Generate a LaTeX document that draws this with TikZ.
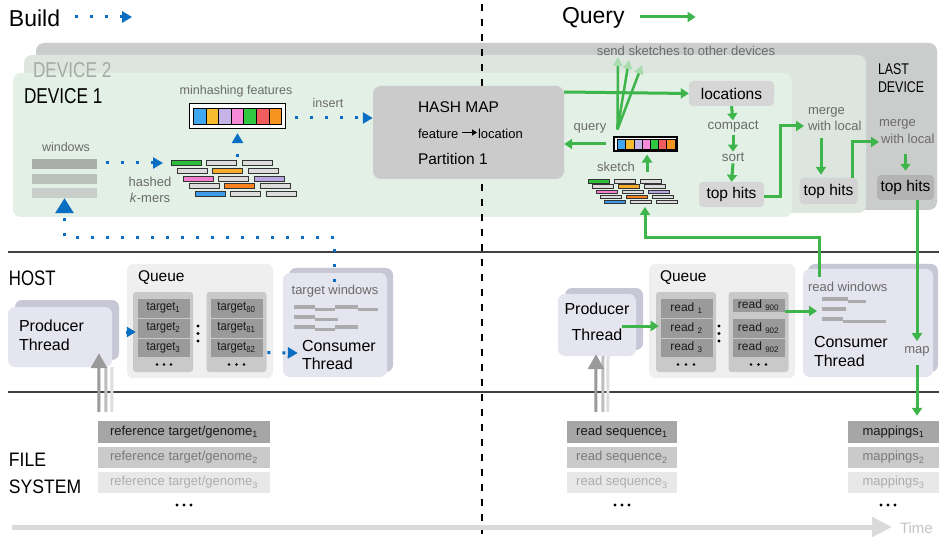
\documentclass[tikz,border=0pt]{standalone}
\usepackage{fontspec}
\setmainfont{Liberation Sans}
\newfontfamily\narrowA[FakeStretch=0.8]{Liberation Sans}
\newfontfamily\narrowB[FakeStretch=0.9]{Liberation Sans}
\usetikzlibrary{arrows.meta,calc}
\newcommand\setsz[1]{\fontsize{#1}{#1}\selectfont}

\definecolor{qgreen}{HTML}{3DB54A}
\definecolor{qgreenl}{HTML}{A8DCAE}
\definecolor{bblue}{HTML}{0A6FC2}
\definecolor{tgray}{HTML}{6B6B6B}
\definecolor{devA}{HTML}{E2F0E5}
\definecolor{devB}{HTML}{DCE5DE}
\definecolor{devC}{HTML}{CBCCCC}
\definecolor{devBtxt}{HTML}{A5AAA7}
\definecolor{hmgray}{HTML}{CBCBCB}
\definecolor{locgray}{HTML}{D6D6D6}
\definecolor{th2gray}{HTML}{D3D3D3}
\definecolor{th3gray}{HTML}{B3B3B3}
\definecolor{winA}{HTML}{A9AEAB}
\definecolor{winB}{HTML}{B9C0BB}
\definecolor{winC}{HTML}{C8CFCA}
\definecolor{kgreen}{HTML}{2DBE3C}
\definecolor{kgray}{HTML}{DCDCDC}
\definecolor{korange}{HTML}{F6AD2A}
\definecolor{kpink}{HTML}{F47FD0}
\definecolor{kpurple}{HTML}{B9A6E3}
\definecolor{kdorange}{HTML}{F7821E}
\definecolor{kblue}{HTML}{3D9BE9}
\definecolor{fblue}{HTML}{40A8F0}
\definecolor{fyellow}{HTML}{F7BC30}
\definecolor{flav}{HTML}{C6B4E8}
\definecolor{fpink}{HTML}{F78AD8}
\definecolor{fgreen}{HTML}{30C840}
\definecolor{fred}{HTML}{EF5D5D}
\definecolor{forange}{HTML}{F79420}
\definecolor{qbg}{HTML}{EFEFEF}
\definecolor{colbg}{HTML}{C9C9C9}
\definecolor{cellgray}{HTML}{9A9A9A}
\definecolor{cardfront}{HTML}{E5E5F0}
\definecolor{cardback}{HTML}{C7C7D6}
\definecolor{wbar}{HTML}{ABABAB}
\definecolor{linegray}{HTML}{404040}
\definecolor{fsA}{HTML}{A6A6A6}
\definecolor{fsB}{HTML}{CACACA}
\definecolor{fsC}{HTML}{E8E8E8}
\definecolor{fsBt}{HTML}{7A7A7A}
\definecolor{fsCt}{HTML}{ADADAD}
\definecolor{gaA}{HTML}{9A9A9A}
\definecolor{gaB}{HTML}{BDBDBD}
\definecolor{gaC}{HTML}{DDDDDD}
\definecolor{timegray}{HTML}{DADADA}
\definecolor{timetxt}{HTML}{C4C4C4}

\begin{document}
\begin{tikzpicture}[x=1pt,y=-1pt,
  txt/.style={inner sep=0pt, outer sep=0pt, text=black},
  gtxt/.style={inner sep=0pt, outer sep=0pt, text=tgray, font=\setsz{13}},
  garrow/.style={draw=qgreen, line width=3pt, -{Triangle[length=8pt,width=10pt]}},
  gsmall/.style={draw=qgreen, line width=3pt, -{Triangle[length=7pt,width=10pt]}},
  fanarrow/.style={draw=qgreen, line width=2.5pt, -{Triangle[length=9pt,width=9pt,color=qgreenl]}},
  bdot/.style={draw=bblue, line width=3pt, dash pattern=on 3pt off 12pt, -{Triangle[length=10pt,width=11pt]}},
  barrowtip/.style={draw=bblue, line width=3pt, -{Triangle[length=9pt,width=10pt]}},
  hitbox/.style={rounded corners=4pt, inner sep=0pt, font=\setsz{15.5}},
  kbar/.style={draw=black!80, line width=0.8pt},
  cell/.style={fill=cellgray, draw=colbg, line width=0.6pt, minimum width=53, inner sep=0pt, text=black!90},
  colbox/.style={fill=colbg, rounded corners=3pt, minimum width=60, minimum height=80, inner sep=0pt},
  qbox/.style={fill=qbg, rounded corners=6pt, minimum width=146, minimum height=114, inner sep=0pt},
  front/.style={fill=cardfront, rounded corners=7pt, inner sep=0pt},
  back/.style={fill=cardback, rounded corners=7pt},
  fsbox/.style={minimum height=22, inner sep=0pt, font=\setsz{13}},
  wline/.style={draw=wbar, line width=3.5pt}]

\path[use as bounding box, fill=white] (0,0) rectangle (939,537);

% ---------- headings ----------
\node[txt, anchor=west, font=\setsz{23}] (build) at (9,18) {Build};
\draw[bdot] ($(build.east)+(15,-1)$) -- ($(build.east)+(72,-1)$);
\node[txt, anchor=west, font=\setsz{23}] (query) at (562,18) {Query};
\draw[garrow] ($(query.east)+(15,-1)$) -- ($(query.east)+(71,-1)$);

% ---------- device stack ----------
\fill[devC, rounded corners=8pt] (36,43) rectangle (937,210);
\fill[devB, rounded corners=8pt] (24,55) rectangle (866,213);
\fill[devA, rounded corners=8pt] (13,73) rectangle (792,217);
\node[txt, anchor=west, text=devBtxt, font=\narrowA\setsz{21.5}] (dev2) at (33,70) {DEVICE 2};
\node[txt, anchor=west, font=\narrowA\setsz{21.5}] (dev1) at (24,96) {DEVICE 1};
\node[txt, anchor=west, font=\narrowA\setsz{15.5}] (lastA) at (878,69) {LAST};
\node[txt, anchor=west, font=\narrowA\setsz{15.5}] (lastB) at (878,87) {DEVICE};

% build / query divider
\draw[line width=1.5pt, dash pattern=on 7pt off 8pt] (482,4) -- (482,534);

% tier separators
\draw[line width=1.5pt, draw=linegray] (8,252) -- (939,252);
\draw[line width=1.5pt, draw=linegray] (8,392) -- (939,392);

% ---------- build side on the device ----------
\node[gtxt, font=\setsz{12.5}] (wlabel) at (66,147) {windows};
\node[fill=winA, minimum width=65, minimum height=10, inner sep=0pt] (win1) at (64.5,164) {};
\node[fill=winB, minimum width=65, minimum height=10, inner sep=0pt] (win2) at (64.5,179) {};
\node[fill=winC, minimum width=65, minimum height=10, inner sep=0pt] (win3) at (64.5,193) {};

\node[gtxt] (hashedA) at (150,182) {hashed};
\node[gtxt] (hashedB) at (150,198) {\textit{k}-mers};

% hashed k-mers (large) and sketch k-mers (small)
\foreach \r/\i/\cl in {0/0/kgreen,0/1/kgray,0/2/kgray,
                       1/0/kgray,1/1/korange,1/2/kgray,
                       2/0/kpink,2/1/kgray,2/2/kpurple,
                       3/0/kgray,3/1/kdorange,3/2/kgray,
                       4/0/kblue,4/1/kgray,4/2/kgray}{
  \draw[kbar, fill=\cl] ({171+6*\r+35.5*\i},{160.5+7.75*\r}) rectangle +(30,5);
  \draw[kbar, line width=0.6pt, fill=\cl] ({588+4*\r+26*\i},{179.5+5.2*\r}) rectangle +(21,3.5);
}
\coordinate (kmersin) at (171,163);
\coordinate (sketchkm) at (645,207);

\draw[bdot] ($(win1.east)+(9,-1)$) -- ($(kmersin)+(-8,0)$);

\node[gtxt, font=\setsz{12.5}] (mhlabel) at (236,91) {minhashing features};
\node[draw=black, line width=1.3pt, fill=white, minimum width=96, minimum height=25, inner sep=0pt] (feat) at (237.5,116) {};
\node[draw=black, line width=1.1pt, fill=white, minimum width=63, minimum height=14, inner sep=0pt] (sketchbox) at (645.5,144) {};
\foreach \cl [count=\i from 0] in {fblue,fyellow,flav,fpink,fgreen,fred,forange}{
  \draw[line width=0.9pt, fill=\cl] ({193.5+12.6*\i},108) rectangle +(12.6,16);
  \draw[line width=0.7pt, fill=\cl] ({617.5+8.2*\i},139.5) rectangle +(8.2,9.5);
}
\draw[bdot] ($(feat.south)+(0,28)$) -- ($(feat.south)+(0,4)$);

\node[gtxt, font=\setsz{12.5}] (inslabel) at (328,103) {insert};
\node[fill=hmgray, rounded corners=8pt, minimum width=191, minimum height=93, inner sep=0pt] (hashmap) at (468.5,132.5) {};
\node[txt, anchor=west, font=\setsz{15.5}] (hmtitle) at (418,107) {HASH MAP};
\node[txt, anchor=west, font=\setsz{13}] (hmfeat) at (418,134) {feature};
\node[txt, anchor=west, font=\setsz{13}] (hmloc) at (478,134) {location};
\draw[line width=1.3pt, -{Triangle[length=5pt,width=6pt]}] ($(hmfeat.east)+(4,-1.5)$) -- ($(hmloc.west)+(-1,-1.5)$);
\node[txt, anchor=west, font=\setsz{15.5}] (hmpart) at (418,159) {Partition 1};
\draw[bdot] ($(feat.east)+(9,2)$) -- ($(hashmap.west)+(0,-14.5)$);

% ---------- query side on the device ----------
\node[gtxt] (sendlabel) at (686,51) {send sketches to other devices};
\node[gtxt] (sketchlabel) at (616,167) {sketch};
\node[gtxt] (querylabel) at (590,128) {query};

\node[fill=locgray, hitbox] (loc) at (731.5,93.5) [minimum width=85, minimum height=25] {locations};
\node[gtxt, font=\setsz{13.5}] (compact) at (733,127) {compact};
\node[gtxt, font=\setsz{13.5}] (sort) at (733,157) {sort};
\node[fill=locgray, hitbox] (th1) at (731.5,194.5) [minimum width=65, minimum height=25] {top hits};
\node[gtxt] (m1a) at (808,112) [anchor=west] {merge};
\node[gtxt] (m1b) at (808,126) [anchor=west] {with local};
\node[fill=th2gray, hitbox] (th2) at (828.5,191) [minimum width=58, minimum height=26] {top hits};
\node[gtxt] (m2a) at (879,124) [anchor=west] {merge};
\node[gtxt] (m2b) at (881,139) [anchor=west] {with local};
\node[fill=th3gray, hitbox] (th3) at (905.5,187.5) [minimum width=57, minimum height=25] {top hits};

\coordinate (fan0) at ($(sketchbox.north west)+(4,-7)$);
\coordinate (fan1) at (618,57);
\coordinate (fan2) at (629,60);
\coordinate (fan3) at (642,65);
\draw[fanarrow] (fan0) -- (fan1);
\draw[fanarrow] (fan0) -- (fan2);
\draw[fanarrow] (fan0) -- (fan3);

\draw[garrow] ($(hashmap.east)+(0,-40.5)$) -- (loc.west);
\draw[garrow] ($(sketchbox.west)+(-7,0)$) -- (hashmap.east |- sketchbox.west);
\draw[garrow] ($(sketchbox.south)+(1.5,20)$) -- ($(sketchbox.south)+(1.5,3)$);
\draw[gsmall] (loc.south) -- ($(compact.north)+(0,-1)$);
\draw[gsmall] ($(compact.south)+(0,2)$) -- ($(sort.north)+(0,-1)$);
\draw[gsmall] ($(sort.south)+(0,2)$) -- (th1.north);
\draw[garrow] ($(th1.east)+(0,2)$) -| ($(m1b.west)+(-28,0)$) -- ($(m1b.west)+(-4,0)$);
\draw[garrow] ($(th2.north)+(-7.5,-40)$) -- ($(th2.north)+(-7.5,-3)$);
\draw[garrow] ($(th2.north)+(23.5,0)$) |- ($(m2b.west)+(-2,3)$);
\draw[gsmall] ($(th3.north)+(0,-21)$) -- ($(th3.north)+(0,-4)$);

% ---------- host, build side ----------
\node[txt, anchor=west, font=\narrowA\setsz{21}] (host) at (9,278) {HOST};

\fill[back] (15,300) rectangle (119,360);
\node[front, minimum width=104, minimum height=60] (prodL) at (60,337) {};
\node[txt, anchor=west, font=\setsz{16}] (prodLa) at (19,326) {Producer};
\node[txt, anchor=west, font=\setsz{16}] (prodLb) at (19,345) {Thread};

\node[qbox] (qL) at (200,321) {};
\node[txt, anchor=west, font=\setsz{15.5}] (qLlabel) at (138,278) {Queue};
\node[colbox] (qLc1) at (163,332) {};
\node[colbox] (qLc2) at (236.5,332) {};
\node[cell, minimum height=20, font=\narrowB\setsz{12.5}] (t1) at (163.5,308) {target\textsubscript{1}};
\node[cell, minimum height=20, font=\narrowB\setsz{12.5}] (t2) at (163.5,328) {target\textsubscript{2}};
\node[cell, minimum height=19, font=\narrowB\setsz{12.5}] (t3) at (163.5,347.5) {target\textsubscript{3}};
\node[cell, minimum height=20, font=\narrowB\setsz{12.5}] (t80) at (236.5,308) {target\textsubscript{80}};
\node[cell, minimum height=20, font=\narrowB\setsz{12.5}] (t81) at (236.5,328) {target\textsubscript{81}};
\node[cell, minimum height=19, font=\narrowB\setsz{12.5}] (t82) at (236.5,347.5) {target\textsubscript{82}};

\fill[back] (289,268) rectangle (393,372);
\node[front, minimum width=104, minimum height=104] (consL) at (335,325) {};
\node[gtxt] (twlabel) at (335,291) {target windows};
\draw[wline] (294,307) -- (315,307);
\draw[wline] (315,309.5) -- (335,309.5);
\draw[wline] (335,307) -- (358,307);
\draw[wline] (358,309.5) -- (378,309.5);
\draw[wline] (294,317) -- (315,317);
\draw[wline] (315,319.5) -- (338,319.5);
\draw[wline] (294,327) -- (315,327);
\draw[wline] (315,329.5) -- (335,329.5);
\draw[wline] (335,327) -- (358,327);
\node[txt, anchor=west, font=\setsz{16}] (consLa) at (302,346) {Consumer};
\node[txt, anchor=west, font=\setsz{16}] (consLb) at (302,364) {Thread};

\draw[barrowtip] ($(qL.west)+(-1,11)$) -- ($(qL.west)+(9,11)$);
\draw[bdot] ($(t82.east)+(4,5)$) -- ($(consL.west)+(15,28)$);
\draw[bdot, -{Triangle[length=15pt,width=18pt]}] ($(consL.north)+(-1,9)$) |- ($(win3.south)+(0,39)$) -- (win3.south);

% ---------- host, query side ----------
\fill[back] (565,288) rectangle (643,350);
\node[front, minimum width=78, minimum height=62] (prodR) at (597,325) {};
\node[txt, font=\setsz{16}] (prodRa) at (597,309) {Producer};
\node[txt, font=\setsz{16}] (prodRb) at (597,335) {Thread};

\node[qbox] (qR) at (722,321) {};
\node[txt, anchor=west, font=\setsz{15.5}] (qRlabel) at (660,278) {Queue};
\node[colbox] (qRc1) at (686,332) {};
\node[colbox] (qRc2) at (758.5,332) {};
\node[cell, minimum height=20, font=\setsz{12}] (rd1) at (686.5,308) {read \textsubscript{1}};
\node[cell, minimum height=20, font=\setsz{12}] (rd2) at (686.5,328) {read \textsubscript{2}};
\node[cell, minimum height=19, font=\setsz{12}] (rd3) at (686.5,347.5) {read \textsubscript{3}};
\node[cell, minimum height=14, font=\setsz{12}] (rd900) at (758.5,305) {read \textsubscript{900}};
\node[cell, minimum height=20, font=\setsz{12}] (rd902a) at (758.5,328) {read \textsubscript{902}};
\node[cell, minimum height=19, font=\setsz{12}] (rd902b) at (758.5,347.5) {read \textsubscript{902}};

\fill[back] (808,264) rectangle (938,372);
\node[front, minimum width=130, minimum height=108] (consR) at (868,323) {};
\node[gtxt, anchor=west] (readwin) at (808,287) {read windows};
\draw[wline] (822,299) -- (848,299);
\draw[wline] (848,301.5) -- (866,301.5);
\draw[wline] (822,309) -- (846,309);
\draw[wline] (822,319) -- (843,319);
\draw[wline] (843,321.5) -- (886,321.5);
\node[txt, anchor=west, font=\setsz{16}] (consRa) at (814,342) {Consumer};
\node[txt, anchor=west, font=\setsz{16}] (consRb) at (814,361) {Thread};
\node[gtxt] (maplabel) at (917,351) {map};

\draw[garrow] ($(rd2.west)+(-38,-2)$) -- ($(rd2.west)+(-1,-2)$);
\draw[garrow] ($(rd900.east)+(0,6)$) -- ($(readwin.west)+(9,24)$);
\draw[garrow] ($(readwin.north west)+(11,-5)$) |- ($(sketchkm)+(0,31)$) -- (sketchkm);

% ellipses and colons in the queues
\foreach \x in {157,164,171,229,236.5,244,678,686,694,751,758.5,766}
  \fill (\x,364.5) circle (1.3);
\foreach \x in {198,719}
  \foreach \y in {326,333.5,341}
    \fill (\x,\y) circle (1.7);

% ---------- file system ----------
\node[txt, anchor=west, font=\narrowB\setsz{19.5}] (fsA) at (9,460) {FILE};
\node[txt, anchor=west, font=\narrowB\setsz{19.5}] (fsB) at (9,487) {SYSTEM};

\node[fsbox, fill=fsA, text=black!90, minimum width=172] (ref1) at (184,432) {reference target/genome\textsubscript{1}};
\node[fsbox, fill=fsB, text=fsBt, minimum width=172, minimum height=21] (ref2) at (184,457.5) {reference target/genome\textsubscript{2}};
\node[fsbox, fill=fsC, text=fsCt, minimum width=172, minimum height=21] (ref3) at (184,482.5) {reference target/genome\textsubscript{3}};

\node[fsbox, fill=fsA, text=black!90, minimum width=110] (rs1) at (622,432) {read sequence\textsubscript{1}};
\node[fsbox, fill=fsB, text=fsBt, minimum width=110, minimum height=21] (rs2) at (622,457.5) {read sequence\textsubscript{2}};
\node[fsbox, fill=fsC, text=fsCt, minimum width=110, minimum height=21] (rs3) at (622,482.5) {read sequence\textsubscript{3}};

\node[fsbox, fill=fsA, text=black!90, minimum width=91] (mp1) at (893.5,432) {mappings\textsubscript{1}};
\node[fsbox, fill=fsB, text=fsBt, minimum width=91, minimum height=21] (mp2) at (893.5,457.5) {mappings\textsubscript{2}};
\node[fsbox, fill=fsC, text=fsCt, minimum width=91, minimum height=21] (mp3) at (893.5,482.5) {mappings\textsubscript{3}};

\foreach \x in {177,184,191,615,622,629,881,888,895}
  \fill (\x,505) circle (1.7);

% reading from the file system into the producers
\draw[line width=3pt, draw=gaC] ($(ref1.north west)+(14,-9)$) -- ($(prodL.south)+(52,0)$);
\draw[line width=3pt, draw=gaB] ($(ref1.north west)+(8,-9)$) -- ($(prodL.south)+(46,0)$);
\draw[line width=3pt, draw=gaA, -{Triangle[length=15pt,width=16pt]}] ($(ref1.north west)+(1,-9)$) -- ($(prodL.south)+(39,-14)$);
\draw[line width=3pt, draw=gaC] ($(rs1.north west)+(41,-9)$) -- ($(prodR.south)+(11,0)$);
\draw[line width=3pt, draw=gaB] ($(rs1.north west)+(36,-9)$) -- ($(prodR.south)+(6,0)$);
\draw[line width=3pt, draw=gaA, -{Triangle[length=15pt,width=16pt]}] ($(rs1.north west)+(29,-9)$) -- ($(prodR.south)+(-1,-2)$);

% map results out to the file system
\draw[garrow] ($(th3.south)+(11.5,0)$) -- ($(maplabel.north)+(0,-5)$);
\draw[garrow] ($(maplabel.south)+(0,9)$) -- ($(mp1.north)+(23.5,-5)$);

% ---------- time axis ----------
\node[txt, anchor=west, text=timetxt, font=\setsz{15}] (timelabel) at (900,528) {Time};
\draw[line width=5pt, draw=timegray, -{Triangle[length=20pt,width=19pt]}] (12,527) -- ($(timelabel.west)+(-8,-1)$);

\end{tikzpicture}
\end{document}
